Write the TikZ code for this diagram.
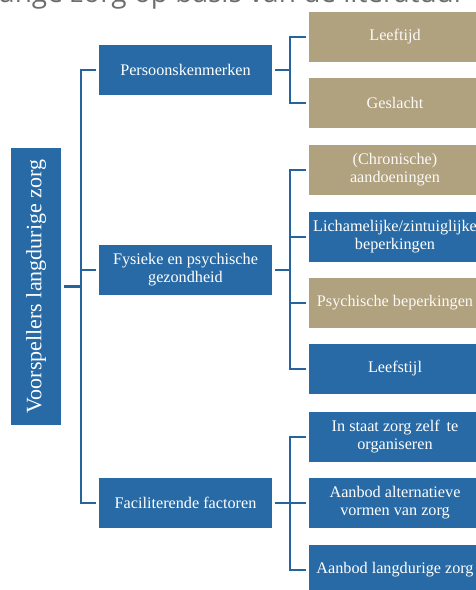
\documentclass[tikz,border=0pt]{standalone}
\usepackage{fontspec}
\setmainfont{Liberation Serif}
\newfontfamily\titlefont{Open Sans}
\definecolor{boxblue}{RGB}{40,106,165}
\definecolor{boxtan}{RGB}{176,161,127}
\definecolor{linkblue}{RGB}{38,100,158}
\definecolor{titlegray}{RGB}{110,110,110}
\begin{document}
\begin{tikzpicture}[x=1pt,y=-1pt,
  box/.style={inner sep=2pt, outer sep=3pt, align=center, text=white,
    font=\fontsize{16.2}{18}\selectfont},
  midbox/.style={box, fill=boxblue, minimum width=173pt, minimum height=50pt},
  bluebox/.style={box, fill=boxblue, minimum width=172pt, minimum height=50pt},
  tanbox/.style={box, fill=boxtan, text=white!95!boxtan, minimum width=172pt, minimum height=50pt},
  link/.style={draw=linkblue, line width=2.6pt, line join=miter}]
\useasboundingbox (0,0) rectangle (476,590);
\clip (0,0) rectangle (476,590);
\node[anchor=base west, text=titlegray, inner sep=0pt,
  font=\titlefont\fontsize{28}{30}\selectfont] (title) at (-1,2) {ange zorg op basis van de literatuur};
% root
\node[box, fill=boxblue, rotate=90, minimum width=277pt, minimum height=50pt,
  font=\fontsize{22}{24}\selectfont] (root) at (36,286.5) {Voorspellers langdurige zorg};
% middle level
\node[midbox] (p1) at (185.5,70) {Persoonskenmerken};
\node[midbox] (p2) at (185.5,270) {Fysieke en psychische\\gezondheid};
\node[midbox] (p3) at (185.5,503) {Faciliterende factoren};
% right level
\node[tanbox] (c1) at (395,37) {Leeftijd};
\node[tanbox] (c2) at (395,103) {Geslacht};
\node[tanbox] (c3) at (395,170) {(Chronische)\\aandoeningen};
\node[bluebox] (c4) at (395,237) {Lichamelijke/zintuiglijke\\beperkingen};
\node[tanbox] (c5) at (395,303) {Psychische beperkingen};
\node[bluebox] (c6) at (395,369) {Leefstijl};
\node[bluebox] (c7) at (395,437) {In staat zorg zelf\, te\\organiseren};
\node[bluebox] (c8) at (395,503) {Aanbod alternatieve\\vormen van zorg};
\node[bluebox] (c9) at (395,570) {Aanbod langdurige zorg};
% junctions
\coordinate (jL) at (81,286.5);
\coordinate (jA) at (290,70);
\coordinate (jB) at (290,270);
\coordinate (jC) at (290,503);
% left tree
\draw[link] (root.south) -- (jL);
\draw[link] (p1.west) -| (jL) |- (p3.west);
\draw[link] (p2.west) -- (p2.west -| jL);
% group 1
\draw[link] (p1.east) -- (jA);
\draw[link] (c1.west) -| (jA) |- (c2.west);
% group 2
\draw[link] (p2.east) -- (jB);
\draw[link] (c3.west) -| (jB) |- (c6.west);
\draw[link] (c4.west) -- (c4.west -| jB);
\draw[link] (c5.west) -- (c5.west -| jB);
% group 3
\draw[link] (p3.east) -- (jC);
\draw[link] (c7.west) -| (jC) |- (c9.west);
\draw[link] (c8.west) -- (jC);
\end{tikzpicture}
\end{document}
